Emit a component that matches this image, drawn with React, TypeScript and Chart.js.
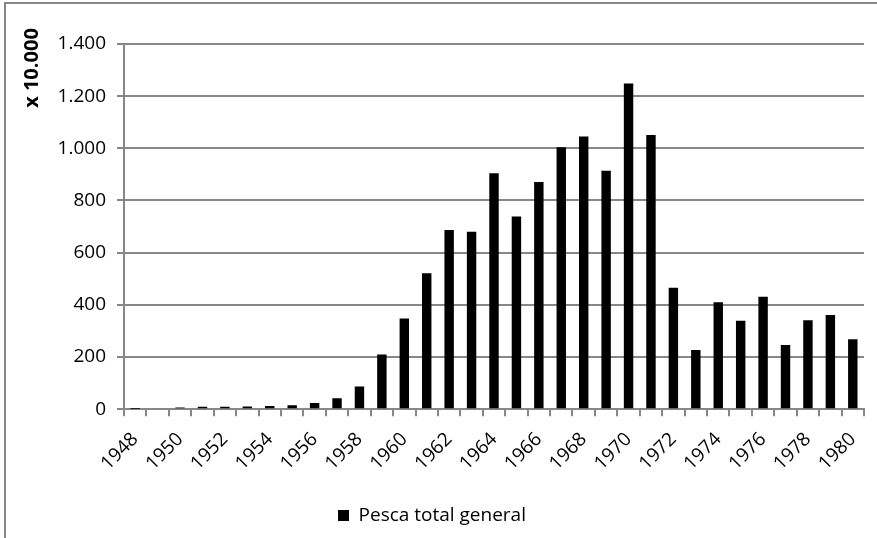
import React, { useEffect, useRef } from "react";
import { Chart, registerables } from "chart.js";

Chart.register(...registerables);

const years: string[] = [
  "1948", "1949", "1950", "1951", "1952", "1953", "1954", "1955", "1956", "1957", "1958",
  "1959", "1960", "1961", "1962", "1963", "1964", "1965", "1966", "1967", "1968", "1969",
  "1970", "1971", "1972", "1973", "1974", "1975", "1976", "1977", "1978", "1979", "1980",
];

const pescaTotal: number[] = [
  1, 3, 6, 9, 9, 10, 12, 15, 24, 42, 87,
  210, 348, 521, 687, 680, 904, 739, 871, 1004, 1045, 914,
  1249, 1051, 465, 227, 410, 339, 431, 246, 341, 361, 268,
];

const seriesLabel = "Pesca total general";
const yAxisTitle = "x 10.000";
const yMin = 0;
const yMax = 1400;
const yStep = 200;

const FONT = "'Open Sans', Lato, sans-serif";
const FS = 19;
const GRID = "#878787";

function fmt(v: number): string {
  return Math.round(v)
    .toString()
    .replace(/\B(?=(\d{3})+(?!\d))/g, ".");
}

const yTitlePlugin = {
  id: "yTitlePlugin",
  afterDraw(chart: any) {
    const ctx = chart.ctx;
    ctx.save();
    ctx.translate(32, 68);
    ctx.rotate(-Math.PI / 2);
    ctx.font = `bold 20px ${FONT}`;
    ctx.fillStyle = "#000";
    ctx.textAlign = "center";
    ctx.textBaseline = "middle";
    ctx.fillText(yAxisTitle, 0, 0);
    ctx.restore();
  },
};

export default function App() {
  const canvasRef = useRef<HTMLCanvasElement | null>(null);

  useEffect(() => {
    const canvas = canvasRef.current;
    if (!canvas) return;
    const chart = new Chart(canvas, {
      type: "bar",
      data: {
        labels: years,
        datasets: [
          {
            label: seriesLabel,
            data: pescaTotal,
            backgroundColor: "#000000",
            borderWidth: 0,
            barPercentage: 0.42,
            categoryPercentage: 1,
          },
        ],
      },
      plugins: [yTitlePlugin],
      options: {
        responsive: false,
        animation: false,
        devicePixelRatio: 1,
        layout: { padding: { top: 44, right: 13, left: 0, bottom: 3 } },
        font: { family: FONT, size: FS },
        plugins: {
          tooltip: { enabled: false },
          legend: {
            position: "bottom",
            labels: {
              color: "#000",
              font: { family: FONT, size: FS },
              boxWidth: 11,
              boxHeight: 11,
              padding: 10,
            },
          },
        },
        scales: {
          x: {
            offset: true,
            afterFit: (scale: any) => {
              scale.height += 9;
              scale.paddingLeft = 0;
              scale.paddingRight = 0;
            },
            grid: {
              offset: true,
              drawOnChartArea: false,
              drawTicks: true,
              tickLength: 7,
              color: GRID,
              lineWidth: 2,
            },
            border: { display: true, color: GRID, width: 2 },
            ticks: {
              autoSkip: false,
              maxRotation: 45,
              minRotation: 45,
              padding: 12,
              color: "#000",
              font: { family: FONT, size: FS },
              callback: (_v: any, i: number) => (i % 2 === 0 ? years[i] : ""),
            },
          },
          y: {
            min: yMin,
            max: yMax,
            afterFit: (scale: any) => {
              scale.width = 124;
            },
            grid: {
              color: GRID,
              lineWidth: 2,
              tickLength: 7,
              drawTicks: true,
            },
            border: { display: true, color: GRID, width: 2 },
            ticks: {
              stepSize: yStep,
              padding: 11,
              color: "#000",
              font: { family: FONT, size: FS },
              callback: (v: any) => fmt(Number(v)),
            },
          },
        },
      },
    } as any);
    return () => chart.destroy();
  }, []);

  return (
    <div
      style={{
        position: "fixed",
        left: 0,
        top: 0,
        width: 877,
        height: 538,
        background: "#fff",
        overflow: "hidden",
      }}
    >
      <canvas
        ref={canvasRef}
        width={877}
        height={538}
        style={{ position: "absolute", left: 0, top: 0, width: 877, height: 538 }}
      />
      <div
        style={{
          position: "absolute",
          left: 4,
          top: 2,
          right: 0,
          bottom: 0,
          borderTop: "2px solid #878787",
          borderLeft: "2px solid #878787",
          pointerEvents: "none",
        }}
      />
    </div>
  );
}
